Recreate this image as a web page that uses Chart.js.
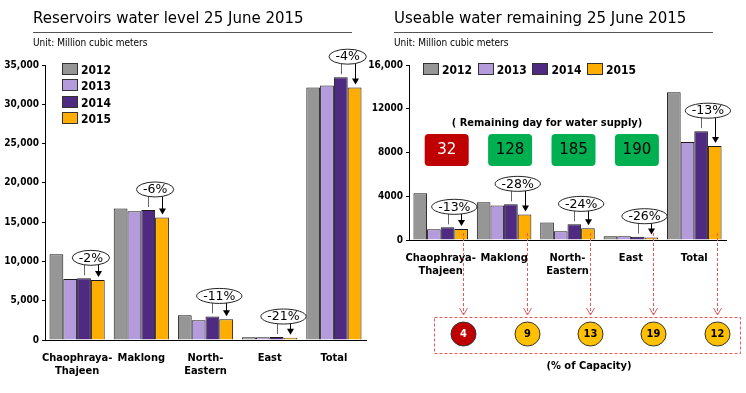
<!DOCTYPE html>
<html lang="en">
<head>
<meta charset="UTF-8">
<title>Reservoirs water level 25 June 2015</title>
<script src="https://cdn.jsdelivr.net/npm/chart.js"></script>
<style>
    body { margin: 0; background: #fff; }
    .page {
        position: relative;
        width: 746px;
        height: 393px;
        overflow: hidden;
        font-family: "DejaVu Sans Condensed", "Liberation Sans", sans-serif;
        color: #000;
    }
    .page canvas { position: absolute; top: 0; }
    #levelChart { left: 0; }
    #usableChart { left: 360px; }
    .title { position: absolute; top: 9px; font: 15px "DejaVu Sans", sans-serif; white-space: nowrap; }
    .rule { position: absolute; top: 32px; width: 319px; height: 1px; background: #555; }
    .unit { position: absolute; top: 37px; font-size: 10px; white-space: nowrap; }
    .legend { position: absolute; font-weight: bold; font-size: 12px; line-height: 14px; }
    .legend .item { white-space: nowrap; }
    .legend.col .item { height: 16.4px; }
    .legend.row .item { display: inline-block; width: 54.7px; }
    .legend i {
        display: inline-block;
        width: 14px;
        height: 10px;
        border: 1px solid #333;
        margin-right: 3px;
        vertical-align: -1px;
    }
    .note {
        position: absolute;
        font-weight: bold;
        font-size: 11px;
        transform: translateX(-50%);
        white-space: nowrap;
    }
</style>
</head>
<body>
<div class="page">
    <canvas id="levelChart" width="373" height="393"></canvas>
    <canvas id="usableChart" width="386" height="393"></canvas>

    <div class="title" style="left:33px">Reservoirs water level 25 June 2015</div>
    <div class="rule" style="left:33px"></div>
    <div class="unit" style="left:33px">Unit: Million cubic meters</div>
    <div class="legend col" id="levelLegend" style="left:62px; top:63px"></div>

    <div class="title" style="left:394px">Useable water remaining 25 June 2015</div>
    <div class="rule" style="left:394px"></div>
    <div class="unit" style="left:394px">Unit: Million cubic meters</div>
    <div class="legend row" id="usableLegend" style="left:423px; top:63px"></div>

    <div class="note" style="left:547px; top:116px">( Remaining day for water supply)</div>
    <div class="note" style="left:589px; top:359px">(% of Capacity)</div>
</div>

<script>
// categories and years
const categories = [['Chaophraya-', 'Thajeen'], 'Maklong', ['North-', 'Eastern'], 'East', 'Total'];
const years = ['2012', '2013', '2014', '2015'];
const yearColors = ['#969696', '#b49bdc', '#4e2a80', '#ffad00'];

// reservoirs water level (million m3)
const level2012 = [10900, 16750, 3150, 350, 32150];
const level2013 = [7750, 16400, 2500, 350, 32400];
const level2014 = [7850, 16550, 3000, 380, 33450];
const level2015 = [7650, 15600, 2650, 300, 32150];
const levelChange = ['-2%', '-6%', '-11%', '-21%', '-4%'];
const levelTicks = ['0', '5,000', '10,000', '15,000', '20,000', '25,000', '30,000', '35,000'];

// useable water remaining (million m3)
const usable2012 = [4280, 3450, 1610, 340, 13500];
const usable2013 = [980, 3150, 790, 340, 8950];
const usable2014 = [1160, 3260, 1430, 300, 9950];
const usable2015 = [1000, 2330, 1080, 230, 8600];
const usableChange = ['-13%', '-28%', '-24%', '-26%', '-13%'];
const usableTicks = ['0', '4000', '8000', '12000', '16,000'];

// remaining days of supply and % of capacity
const remainingDays = [32, 128, 185, 190];
const capacityPct = [4, 9, 13, 19, 12];

const labelFont = '"DejaVu Sans Condensed", "Liberation Sans", sans-serif';

function buildLegend(id) {
    const el = document.getElementById(id);
    years.forEach((y, i) => {
        const item = document.createElement('div');
        item.className = 'item';
        item.innerHTML = '<i style="background:' + yearColors[i] + '"></i>' + y;
        el.appendChild(item);
    });
}
buildLegend('levelLegend');
buildLegend('usableLegend');

// ellipse with % change + arrows from 2014 to 2015 bar
const changePlugin = {
    id: 'change',
    afterDatasetsDraw(chart, args, opts) {
        const ctx = chart.ctx;
        const m14 = chart.getDatasetMeta(2);
        const m15 = chart.getDatasetMeta(3);
        ctx.save();
        ctx.font = '12.5px "DejaVu Sans", sans-serif';
        opts.labels.forEach((txt, i) => {
            const b14 = m14.data[i];
            const b15 = m15.data[i];
            const bottom = Math.min(b14.y, b15.y) - 13;
            const cy = bottom - 7.5;
            const cx = (b14.x + b15.x) / 2;
            const w = ctx.measureText(txt).width + 13;

            ctx.lineWidth = 1;
            ctx.strokeStyle = '#666';
            ctx.beginPath();
            ctx.moveTo(Math.round(b14.x) + 0.5, cy);
            ctx.lineTo(Math.round(b14.x) + 0.5, b14.y - 3);
            ctx.stroke();

            const ax = Math.round(b15.x) + 0.5;
            const tip = b15.y - 3;
            ctx.strokeStyle = '#000';
            ctx.beginPath();
            ctx.moveTo(ax, cy);
            ctx.lineTo(ax, tip - 4);
            ctx.stroke();
            ctx.fillStyle = '#000';
            ctx.beginPath();
            ctx.moveTo(ax - 3.5, tip - 6);
            ctx.lineTo(ax + 3.5, tip - 6);
            ctx.lineTo(ax, tip);
            ctx.closePath();
            ctx.fill();

            ctx.fillStyle = '#fff';
            ctx.strokeStyle = '#222';
            ctx.beginPath();
            ctx.ellipse(cx, cy, w / 2, 7.5, 0, 0, Math.PI * 2);
            ctx.fill();
            ctx.stroke();

            ctx.fillStyle = '#000';
            ctx.textAlign = 'center';
            ctx.textBaseline = 'middle';
            ctx.fillText(txt, cx, cy + 0.5);
        });
        ctx.restore();
    }
};

// remaining-days boxes and % capacity circles (right chart only)
const supplyPlugin = {
    id: 'supply',
    afterDraw(chart) {
        const ctx = chart.ctx;
        const xs = chart.scales.x;
        const area = chart.chartArea;
        ctx.save();

        remainingDays.forEach((d, i) => {
            const cx = xs.getPixelForValue(i) + 6;
            const top = area.top + 69;
            const low = d < 100;
            ctx.fillStyle = low ? '#c00000' : '#00b050';
            ctx.beginPath();
            ctx.roundRect(cx - 22, top, 44, 32, 4);
            ctx.fill();
            ctx.fillStyle = low ? '#fff' : '#000';
            ctx.font = '15px "DejaVu Sans", sans-serif';
            ctx.textAlign = 'center';
            ctx.textBaseline = 'middle';
            ctx.fillText(String(d), cx, top + 16.5);
        });

        const bars = chart.getDatasetMeta(3).data;
        const px = bars.map(b => Math.round(b.x + 2) + 0.5);
        const cy = 334;

        ctx.strokeStyle = '#e35b5b';
        ctx.lineWidth = 1;
        ctx.setLineDash([3, 2]);
        px.forEach(x => {
            ctx.beginPath();
            ctx.moveTo(x, area.bottom - 7);
            ctx.lineTo(x, 314);
            ctx.stroke();
        });
        ctx.beginPath();
        ctx.rect(px[0] - 29, 317.5, px[px.length - 1] - px[0] + 52, 36);
        ctx.stroke();
        ctx.setLineDash([]);
        px.forEach(x => {
            ctx.beginPath();
            ctx.moveTo(x - 4, 308);
            ctx.lineTo(x, 315);
            ctx.lineTo(x + 4, 308);
            ctx.stroke();
        });

        capacityPct.forEach((v, i) => {
            const low = v < 5;
            ctx.fillStyle = low ? '#c00000' : '#ffc000';
            ctx.strokeStyle = '#333';
            ctx.beginPath();
            ctx.ellipse(px[i], cy, 12.5, 12, 0, 0, Math.PI * 2);
            ctx.fill();
            ctx.stroke();
            ctx.fillStyle = low ? '#fff' : '#000';
            ctx.font = 'bold 11px ' + labelFont;
            ctx.textAlign = 'center';
            ctx.textBaseline = 'middle';
            ctx.fillText(String(v), px[i], cy + 0.5);
        });
        ctx.restore();
    }
};

function makeDatasets(series) {
    return series.map((data, i) => ({
        label: years[i],
        data: data,
        backgroundColor: yearColors[i],
        borderColor: '#1a1a1a',
        borderWidth: 1,
        categoryPercentage: 0.86,
        barPercentage: 1.0
    }));
}

function makeOptions(max, step, tickLabels, yWidth, xHeight, padRight, changeLabels) {
    return {
        responsive: false,
        animation: false,
        devicePixelRatio: 1,
        layout: { padding: { top: 65, right: padRight, left: 0, bottom: 0 } },
        plugins: {
            legend: { display: false },
            tooltip: { enabled: false },
            change: { labels: changeLabels }
        },
        scales: {
            x: {
                grid: { display: false },
                border: { display: true, color: '#000', width: 1 },
                ticks: {
                    color: '#000',
                    padding: 3,
                    maxRotation: 0,
                    autoSkip: false,
                    font: { family: labelFont, size: 11, weight: 'bold', lineHeight: 1.25 }
                },
                afterFit(scale) { scale.height = xHeight; }
            },
            y: {
                min: 0,
                max: max,
                grid: { display: true, drawOnChartArea: false, drawTicks: true, tickLength: 3, color: '#000' },
                border: { display: true, color: '#000', width: 1 },
                ticks: {
                    stepSize: step,
                    color: '#000',
                    padding: 3,
                    font: { family: labelFont, size: 10, weight: 'bold' },
                    callback: (v, idx) => tickLabels[idx]
                },
                afterFit(scale) { scale.width = yWidth; }
            }
        }
    };
}

new Chart(document.getElementById('levelChart'), {
    type: 'bar',
    data: {
        labels: categories,
        datasets: makeDatasets([level2012, level2013, level2014, level2015])
    },
    options: makeOptions(35000, 5000, levelTicks, 45, 53, 7, levelChange),
    plugins: [changePlugin]
});

new Chart(document.getElementById('usableChart'), {
    type: 'bar',
    data: {
        labels: categories,
        datasets: makeDatasets([usable2012, usable2013, usable2014, usable2015])
    },
    options: makeOptions(16000, 4000, usableTicks, 49, 153, 20, usableChange),
    plugins: [changePlugin, supplyPlugin]
});
</script>
</body>
</html>
